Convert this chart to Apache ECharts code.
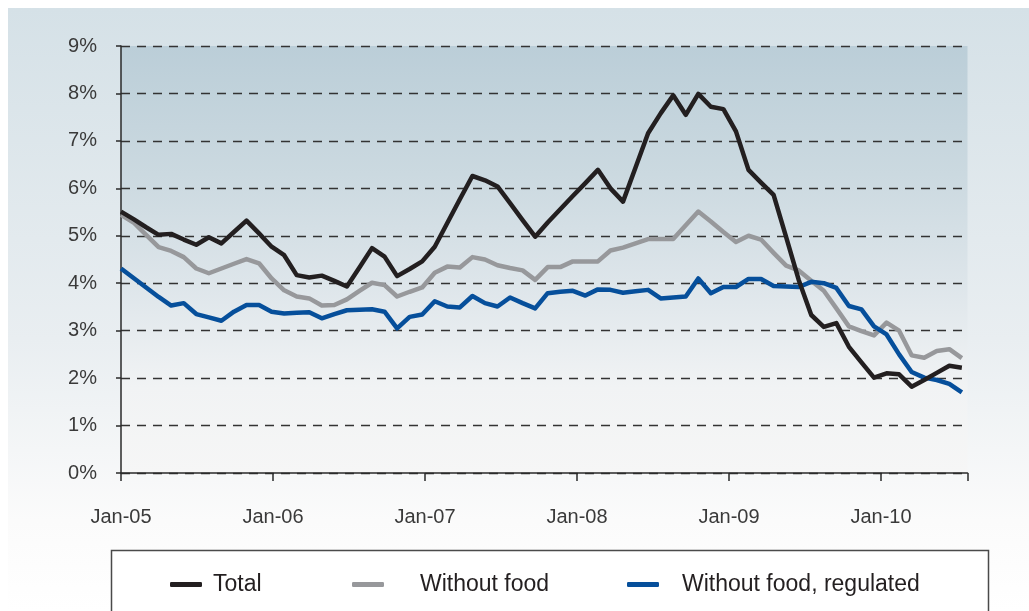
<!DOCTYPE html>
<html>
<head>
<meta charset="utf-8">
<script src="https://cdn.jsdelivr.net/npm/echarts@6/dist/echarts.min.js"></script>
<style>
  html, body { margin: 0; padding: 0; background: #ffffff; }
  #chart { width: 1029px; height: 611px; }
</style>
</head>
<body>
<div id="chart"></div>
<script>
// Year tick labels along the time axis (one every 12 months from Jan-05)
const tickLabels = ['Jan-05', 'Jan-06', 'Jan-07', 'Jan-08', 'Jan-09', 'Jan-10'];
const seriesNames = ['Total', 'Without food', 'Without food, regulated'];

// Annual inflation, %, one observation per period
const total = [
  5.51, 5.35, 5.18, 5.02, 5.04, 4.92, 4.81, 4.97, 4.84, 5.08, 5.32, 5.05,
  4.77, 4.59, 4.17, 4.12, 4.16, 4.05, 3.93, 4.33, 4.74, 4.56, 4.15, 4.30,
  4.46, 4.77, 5.27, 5.77, 6.26, 6.17, 6.04, 5.69, 5.33, 4.98, 5.28, 5.56,
  5.84, 6.11, 6.39, 6.00, 5.72, 6.44, 7.16, 7.58, 7.96, 7.55, 7.99, 7.72,
  7.67, 7.20, 6.39, 6.12, 5.86, 4.97, 4.07, 3.33, 3.08, 3.16, 2.66, 2.33,
  2.01, 2.10, 2.08, 1.82, 1.96, 2.11, 2.26, 2.22
];
const withoutFood = [
  5.44, 5.28, 5.02, 4.76, 4.68, 4.55, 4.31, 4.21, 4.31, 4.41, 4.51, 4.42,
  4.10, 3.85, 3.72, 3.68, 3.53, 3.54, 3.66, 3.84, 4.01, 3.96, 3.72, 3.82,
  3.91, 4.22, 4.35, 4.33, 4.55, 4.50, 4.38, 4.32, 4.27, 4.07, 4.34, 4.34,
  4.46, 4.46, 4.46, 4.69, 4.75, 4.84, 4.93, 4.93, 4.93, 5.22, 5.51, 5.30,
  5.08, 4.87, 5.00, 4.92, 4.64, 4.37, 4.27, 4.05, 3.84, 3.47, 3.09, 2.99,
  2.90, 3.17, 3.00, 2.48, 2.43, 2.57, 2.61, 2.42
];
const withoutFoodRegulated = [
  4.31, 4.11, 3.91, 3.71, 3.53, 3.58, 3.35, 3.28, 3.21, 3.40, 3.54, 3.54,
  3.40, 3.36, 3.38, 3.39, 3.26, 3.35, 3.43, 3.44, 3.45, 3.40, 3.05, 3.29,
  3.34, 3.62, 3.51, 3.49, 3.73, 3.58, 3.51, 3.70, 3.58, 3.47, 3.79, 3.82,
  3.84, 3.74, 3.87, 3.86, 3.80, 3.83, 3.86, 3.68, 3.70, 3.72, 4.10, 3.79,
  3.92, 3.92, 4.09, 4.09, 3.94, 3.93, 3.92, 4.03, 4.00, 3.90, 3.52, 3.45,
  3.09, 2.92, 2.50, 2.13, 2.01, 1.96, 1.88, 1.70
];

const seriesValues = [total, withoutFood, withoutFoodRegulated];
const seriesColors = ['#231f20', '#97989b', '#064f9b'];

const FONT = "'Liberation Sans', Arial, sans-serif";
const TEXT = '#3a3a3a';

const chart = echarts.init(document.getElementById('chart'), null, { renderer: 'canvas' });

// Visible month scale: 0 = Jan-05, axis ends a little before Aug-10
const axisMonths = 66.83;
// Observation scale: last observation sits just inside the axis end
const obsExtent = total.length - 1 + 0.45;

const lineSeries = seriesNames.map((name, k) => ({
  name: name,
  type: 'line',
  xAxisIndex: 1,
  yAxisIndex: 0,
  data: seriesValues[k].map((v, i) => [i, v]),
  showSymbol: false,
  symbol: 'none',
  color: seriesColors[k],
  lineStyle: { width: 4.5, color: seriesColors[k], join: 'round', cap: 'butt' },
  z: k === 0 ? 4 : (k === 2 ? 3 : 2),
  animation: false
}));

function legendItem(name, left, gap) {
  return {
    data: [name],
    left: left,
    top: 568,
    icon: 'roundRect',
    itemWidth: 32,
    itemHeight: 5,
    selectedMode: false,
    textStyle: { fontFamily: FONT, fontSize: 23, color: '#231f20', padding: [0, 0, 0, gap] }
  };
}

chart.setOption({
  animation: false,
  backgroundColor: '#ffffff',
  graphic: [
    {
      type: 'rect',
      z: -10,
      shape: { x: 8, y: 8, width: 1021, height: 603 },
      style: {
        fill: new echarts.graphic.LinearGradient(0, 0, 0, 1, [
          { offset: 0, color: '#d5e1e7' },
          { offset: 0.55, color: '#e9eef1' },
          { offset: 0.85, color: '#fbfbfb' },
          { offset: 1, color: '#ffffff' }
        ])
      }
    },
    {
      type: 'rect',
      z: -5,
      shape: { x: 111.5, y: 550.5, width: 877, height: 80 },
      style: { fill: '#ffffff', stroke: '#4a4a4a', lineWidth: 1.5 }
    }
  ],
  grid: {
    left: 121,
    top: 46,
    width: 846.5,
    height: 427,
    show: true,
    borderWidth: 0,
    backgroundColor: new echarts.graphic.LinearGradient(0, 0, 0, 1, [
      { offset: 0, color: '#bbced8' },
      { offset: 0.3, color: '#cbd9e0' },
      { offset: 0.55, color: '#dde5ea' },
      { offset: 0.8, color: '#f1f3f4' },
      { offset: 1, color: '#f6f6f6' }
    ])
  },
  legend: [
    legendItem(seriesNames[0], 165, 6),
    legendItem(seriesNames[1], 347, 31),
    legendItem(seriesNames[2], 622, 18)
  ],
  xAxis: [
    {
      type: 'value',
      min: 0,
      max: axisMonths,
      interval: 12,
      position: 'bottom',
      axisLine: { show: true, onZero: false, lineStyle: { color: '#2a2a2a', width: 1.5 } },
      axisTick: { show: true, length: 8, lineStyle: { color: '#2a2a2a', width: 1.5 } },
      splitLine: { show: false },
      axisLabel: {
        show: true,
        margin: 34,
        fontFamily: FONT,
        fontSize: 20,
        color: TEXT,
        showMaxLabel: true,
        formatter: v => (v % 12 === 0 ? tickLabels[v / 12] : '')
      }
    },
    {
      type: 'value',
      min: 0,
      max: obsExtent,
      show: false,
      axisLine: { show: false },
      splitLine: { show: false }
    }
  ],
  yAxis: {
    type: 'value',
    min: 0,
    max: 9,
    interval: 1,
    axisLine: { show: true, lineStyle: { color: '#2a2a2a', width: 1.5 } },
    axisTick: { show: true, length: 5, lineStyle: { color: '#2a2a2a', width: 1.5 } },
    splitLine: { show: true, lineStyle: { color: '#333333', width: 1.3, type: [9, 7] } },
    axisLabel: {
      margin: 24,
      fontFamily: FONT,
      fontSize: 20,
      color: TEXT,
      formatter: '{value}%'
    }
  },
  series: lineSeries
});
</script>
</body>
</html>
